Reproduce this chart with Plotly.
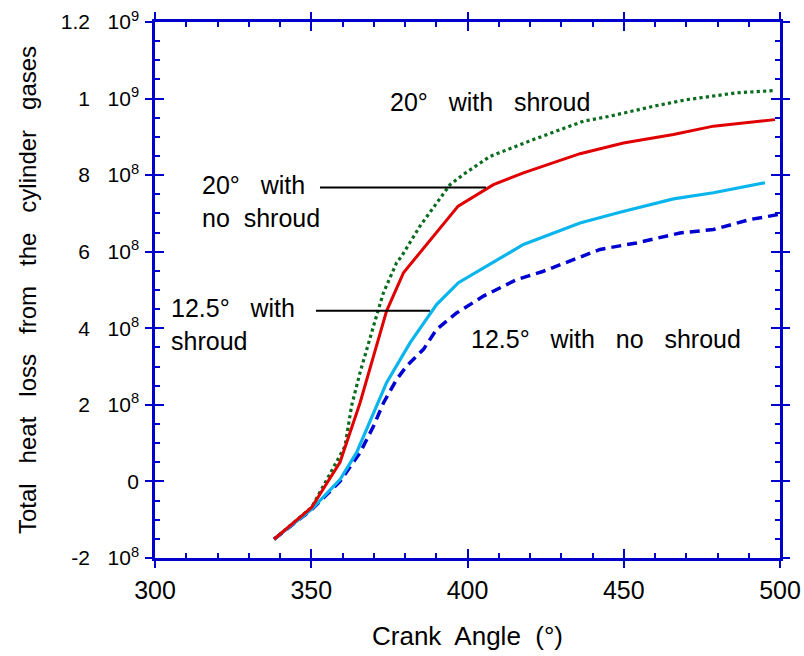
import plotly.graph_objects as go

# ---- data ----
red_x = [338.1, 350.1, 359.2, 365.6, 374.1, 379.5, 397.0, 408.3, 417.9, 436.0, 449.9, 465.9, 478.7, 498.4]
red_y = [-1.51e8, -0.68e8, 0.50e8, 2.05e8, 4.45e8, 5.45e8, 7.19e8, 7.75e8, 8.06e8, 8.56e8, 8.84e8, 9.06e8, 9.28e8, 9.45e8]

green_x = [338.1, 350.1, 356.0, 360.8, 362.9, 365.6, 369.9, 373.1, 377.3, 378.9, 384.8, 394.4, 398.7, 407.2,
           421.1, 437.1, 445.6, 459.5, 470.1, 486.1, 498.4]
green_y = [-1.51e8, -0.68e8, 0.20e8, 0.92e8, 1.97e8, 2.84e8, 4.05e8, 4.93e8, 5.71e8, 5.88e8, 6.67e8, 7.75e8,
           8.02e8, 8.49e8, 8.93e8, 9.41e8, 9.54e8, 9.80e8, 9.97e8, 10.15e8, 10.21e8]

lblue_x = [338.1, 350.1, 359.2, 364.5, 374.1, 381.6, 390.1, 397.1, 417.9, 436.0, 448.8, 465.9, 478.7, 495.2]
lblue_y = [-1.51e8, -0.73e8, 0.05e8, 0.75e8, 2.58e8, 3.62e8, 4.62e8, 5.19e8, 6.19e8, 6.75e8, 7.03e8, 7.38e8, 7.54e8, 7.80e8]

dblue_x = [338.1, 350.1, 359.2, 365.6, 369.9, 373.1, 377.3, 380.5, 385.9, 390.1, 396.5, 405.1, 415.7, 424.3,
           442.4, 454.1, 468.0, 478.7, 490.4, 499.4]
dblue_y = [-1.51e8, -0.74e8, 0.00e8, 0.75e8, 1.44e8, 2.05e8, 2.66e8, 3.01e8, 3.45e8, 3.97e8, 4.40e8, 4.84e8,
           5.27e8, 5.49e8, 6.06e8, 6.23e8, 6.49e8, 6.58e8, 6.84e8, 6.97e8]

y_tickvals = [-2e8, 0, 2e8, 4e8, 6e8, 8e8, 1e9, 1.2e9]
y_ticktext = ["-2   10<sup>8</sup>", "0", "2   10<sup>8</sup>", "4   10<sup>8</sup>", "6   10<sup>8</sup>",
              "8   10<sup>8</sup>", "1   10<sup>9</sup>", "1.2   10<sup>9</sup>"]
x_tickvals = [300, 350, 400, 450, 500]
x_ticktext = ["300", "350", "400", "450", "500"]

AX = "#0000cc"
FONT = "Liberation Sans, Arial, sans-serif"

fig = go.Figure()
fig.add_trace(go.Scatter(x=green_x, y=green_y, mode="lines",
                         line=dict(color="#0b6b1e", width=3.2, dash="dot")))
fig.add_trace(go.Scatter(x=dblue_x, y=dblue_y, mode="lines",
                         line=dict(color="#0000d0", width=3.5, dash="10px,6px")))
fig.add_trace(go.Scatter(x=lblue_x, y=lblue_y, mode="lines",
                         line=dict(color="#0ab4ec", width=3.2)))
fig.add_trace(go.Scatter(x=red_x, y=red_y, mode="lines",
                         line=dict(color="#e00000", width=3)))
# leader lines
fig.add_trace(go.Scatter(x=[352.8, 405.9], y=[7.68e8, 7.68e8], mode="lines",
                         line=dict(color="black", width=2)))
fig.add_trace(go.Scatter(x=[351.5, 388.0], y=[4.46e8, 4.46e8], mode="lines",
                         line=dict(color="black", width=2)))
# invisible trace for outer tick axes
fig.add_trace(go.Scatter(x=[300], y=[0], xaxis="x2", yaxis="y2", mode="markers",
                         marker=dict(opacity=0), hoverinfo="skip"))

common = dict(showgrid=False, zeroline=False, showline=True, linecolor=AX, linewidth=2.5,
              ticks="inside", tickcolor=AX, tickwidth=2, ticklen=9, mirror="allticks",
              automargin=False)

fig.update_layout(
    width=804, height=656,
    margin=dict(l=155, r=24, t=22, b=98),
    paper_bgcolor="white", plot_bgcolor="white",
    showlegend=False,
    font=dict(family=FONT, size=20, color="black"),
    xaxis=dict(range=[300, 500], tickvals=x_tickvals, ticktext=x_ticktext,
               tickfont=dict(family=FONT, size=25, color="black"),
               minor=dict(dtick=10, ticks="inside", ticklen=5, tickcolor=AX, tickwidth=2),
               title=dict(text="Crank  Angle  (°)", font=dict(family=FONT, size=26), standoff=25),
               ticklabelstandoff=8, **common),
    yaxis=dict(range=[-2e8, 1.2e9], tickvals=y_tickvals, ticktext=y_ticktext,
               tickfont=dict(family=FONT, size=21, color="black"),
               minor=dict(dtick=5e7, ticks="inside", ticklen=5, tickcolor=AX, tickwidth=2),
               title=dict(text="Total   heat   loss   from   the   cylinder   gases",
                          font=dict(family=FONT, size=24), standoff=18),
               ticklabelstandoff=9, **common),
    xaxis2=dict(range=[300, 500], overlaying="x", showgrid=False, zeroline=False, showline=False,
                ticks="outside", tickvals=x_tickvals, ticklen=9, tickwidth=2, tickcolor=AX,
                mirror="allticks", showticklabels=False, automargin=False),
    yaxis2=dict(range=[-2e8, 1.2e9], overlaying="y", showgrid=False, zeroline=False, showline=False,
                ticks="outside", tickvals=y_tickvals, ticklen=9, tickwidth=2, tickcolor=AX,
                mirror="allticks", showticklabels=False, automargin=False),
)

ann_font = dict(family=FONT, size=25, color="black")
fig.add_annotation(x=407.2, y=9.9e8, text="20°   with   shroud", showarrow=False, font=ann_font,
                   xanchor="center", yanchor="middle")
fig.add_annotation(x=314.3, y=7.32e8, text="20°   with<br>no  shroud", showarrow=False, font=ann_font,
                   xanchor="left", yanchor="middle", align="left")
fig.add_annotation(x=304.6, y=4.1e8, text="12.5°   with<br>shroud", showarrow=False, font=ann_font,
                   xanchor="left", yanchor="middle", align="left")
fig.add_annotation(x=400.4, y=3.73e8, text="12.5°   with   no   shroud", showarrow=False, font=ann_font,
                   xanchor="left", yanchor="middle")

fig.write_html("out.html")
